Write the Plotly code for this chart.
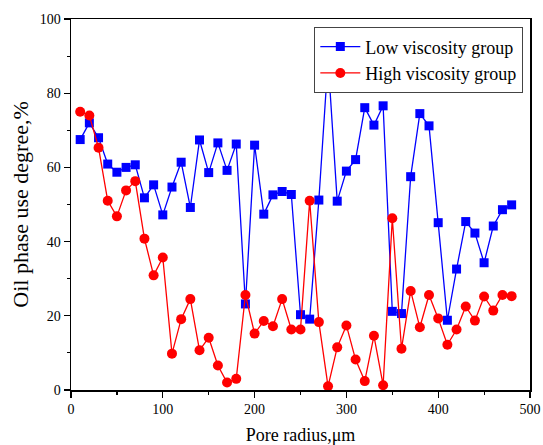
import plotly.graph_objects as go

pore_radius = [10, 20, 30, 40, 50, 60, 70, 80, 90, 100, 110, 120, 130, 140, 150, 160,
               170, 180, 190, 200, 210, 220, 230, 240, 250, 260, 270, 280, 290, 300,
               310, 320, 330, 340, 350, 360, 370, 380, 390, 400, 410, 420, 430, 440,
               450, 460, 470, 480]

low_viscosity = [67.5, 72.0, 68.0, 60.9, 58.7, 60.0, 60.7, 51.8, 55.3, 47.2, 54.7, 61.4,
                 49.2, 67.4, 58.6, 66.6, 59.2, 66.3, 23.2, 66.0, 47.4, 52.6, 53.5, 52.7,
                 20.3, 19.1, 51.2, 89.0, 50.9, 59.0, 62.1, 76.1, 71.4, 76.6, 21.2, 20.6,
                 57.5, 74.5, 71.2, 45.1, 18.8, 32.6, 45.4, 42.3, 34.3, 44.2, 48.6, 49.9]

high_viscosity = [75.0, 74.0, 65.3, 51.0, 46.8, 53.8, 56.3, 40.8, 30.9, 35.7, 9.8, 19.1,
                  24.5, 10.7, 14.1, 6.6, 2.0, 3.0, 25.6, 15.2, 18.6, 17.2, 24.5, 16.3,
                  16.3, 51.0, 18.3, 1.0, 11.5, 17.4, 8.2, 2.4, 14.6, 1.3, 46.3, 11.1,
                  26.7, 16.9, 25.6, 19.3, 12.2, 16.3, 22.5, 18.7, 25.2, 21.4, 25.6, 25.3]

x_ticks = [0, 100, 200, 300, 400, 500]
y_ticks = [0, 20, 40, 60, 80, 100]

FONT = "Liberation Serif"

fig = go.Figure()
fig.add_trace(go.Scatter(
    x=pore_radius, y=low_viscosity, mode="lines+markers", name="Low viscosity group",
    line=dict(color="#0000FF", width=1.3),
    marker=dict(symbol="square", size=9, color="#0000FF", line=dict(width=0)),
))
fig.add_trace(go.Scatter(
    x=pore_radius, y=high_viscosity, mode="lines+markers", name="High viscosity group",
    line=dict(color="#FF0000", width=1.3),
    marker=dict(symbol="circle", size=10, color="#FF0000", line=dict(width=0)),
))

axis_common = dict(
    showline=True, linecolor="black", linewidth=1.5, mirror=True,
    ticks="outside", ticklen=6, tickwidth=1.2, tickcolor="black",
    showgrid=False, zeroline=False, automargin=False,
    tickfont=dict(family=FONT, size=14, color="black"),
)

fig.update_xaxes(
    range=[0, 500], tickvals=x_ticks, ticktext=[str(v) for v in x_ticks],
    minor=dict(ticks="outside", ticklen=3, tickwidth=1.2, tickcolor="black", dtick=50, tick0=0),
    title=dict(text="Pore radius,μm", font=dict(family=FONT, size=18, color="black"), standoff=12),
    **axis_common,
)
fig.update_yaxes(
    range=[0, 100], tickvals=y_ticks, ticktext=[str(v) for v in y_ticks],
    minor=dict(ticks="outside", ticklen=3, tickwidth=1.2, tickcolor="black", dtick=10, tick0=0),
    title=dict(text="Oil phase use degree,%", font=dict(family=FONT, size=22, color="black"), standoff=5),
    **axis_common,
)

fig.update_layout(
    width=543, height=445,
    margin=dict(l=71, r=13, t=19, b=55),
    paper_bgcolor="white", plot_bgcolor="white",
    showlegend=True,
    hovermode=False,
    legend=dict(
        x=0.985, y=0.978, xanchor="right", yanchor="top",
        bgcolor="white", bordercolor="#444444", borderwidth=1.2,
        font=dict(family=FONT, size=18, color="black"),
        tracegroupgap=0, itemwidth=40,
    ),
)

fig.write_html(
    "out.html",
    config={"displayModeBar": False, "staticPlot": True},
    post_script="document.body.style.margin='0';document.body.style.overflow='hidden';",
)
